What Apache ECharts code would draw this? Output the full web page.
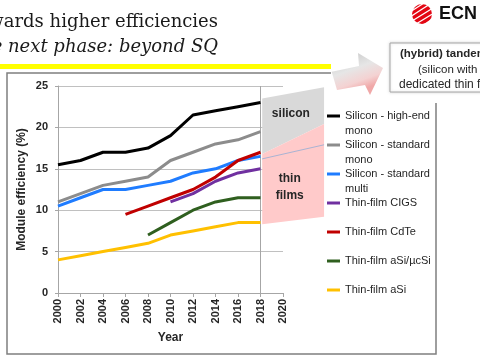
<!DOCTYPE html>
<html><head><meta charset="utf-8">
<script src="https://cdn.jsdelivr.net/npm/echarts@6.0.0/dist/echarts.min.js"></script>
<style>html,body{margin:0;padding:0;background:#fff;}#c{width:480px;height:360px;}</style>
</head><body><div id="c"></div>
<script>
// ---- data ----
const years = [2000, 2002, 2004, 2006, 2008, 2010, 2012, 2014, 2016, 2018];
const siliconHighEndMono = [15.5, 16, 17, 17, 17.5, 19, 21.5, 22, 22.5, 23];
const siliconStandardMono = [11, 12, 13, 13.5, 14, 16, 17, 18, 18.5, 19.5];
const siliconStandardMulti = [10.5, 11.5, 12.5, 12.5, 13, 13.5, 14.5, 15, 16, 16.5];
const thinFilmCIGS = [null, null, null, null, null, 11, 12, 13.5, 14.5, 15];
const thinFilmCdTe = [null, null, null, 9.5, 10.5, 11.5, 12.5, 14, 16, 17];
const thinFilmASiMicro = [null, null, null, null, 7, 8.5, 10, 11, 11.5, 11.5];
const thinFilmASi = [4, 4.5, 5, 5.5, 6, 7, 7.5, 8, 8.5, 8.5];

const seriesNames = ['Silicon - high-end mono', 'Silicon - standard mono', 'Silicon - standard multi',
  'Thin-film CIGS', 'Thin-film CdTe', 'Thin-film aSi/µcSi', 'Thin-film aSi'];
const legendLabels = ['Silicon - high-end\nmono', 'Silicon - standard\nmono', 'Silicon - standard\nmulti',
  'Thin-film CIGS', 'Thin-film CdTe', 'Thin-film aSi/µcSi', 'Thin-film aSi'];
const seriesValues = [siliconHighEndMono, siliconStandardMono, siliconStandardMulti,
  thinFilmCIGS, thinFilmCdTe, thinFilmASiMicro, thinFilmASi];

const xMin = 2000, xMax = 2020, xStep = 2;
const yMin = 0, yMax = 25, yStep = 5;
const todayYear = 2018;

// projection bands (year, efficiency)
const siliconBand = [[2018.15, 23.5], [2023.65, 24.85], [2023.65, 20.4], [2018.15, 16.8]];
const thinFilmBand = [[2018.15, 16.8], [2023.65, 20.4], [2023.65, 9.2], [2018.15, 8.3]];
const tandemLine = [[2018.15, 16.2], [2023.65, 17.9]];
const siliconLabelAt = [2020.7, 21.6];
const thinLabelAt = [2020.6, 12.75];

// ---- styles ----
const colors = ['#000000', '#8c8c8c', '#1f7cff', '#7030a0', '#c00000', '#2f5f1f', '#ffc000'];
const FONT = 'Liberation Sans, Arial, sans-serif';
const SERIF = 'DejaVu Serif, Georgia, serif';
const TXT = '#262626';

const chart = echarts.init(document.getElementById('c'), null, {renderer: 'canvas'});

const lineSeries = seriesNames.map((name, i) => {
  const s = {
    name: name,
    type: 'line',
    symbol: 'none',
    showSymbol: false,
    connectNulls: false,
    z: 5,
    lineStyle: {color: colors[i], width: 3},
    itemStyle: {color: colors[i]},
    data: years.map((y, k) => [y, seriesValues[i][k]]).filter(p => p[1] != null)
  };
  if (i === 0) {
    s.markLine = {
      silent: true, symbol: 'none', label: {show: false},
      lineStyle: {color: '#a6a6a6', type: 'solid', width: 1},
      emphasis: {disabled: true},
      data: [{xAxis: todayYear}]
    };
  }
  return s;
});

const bandSeries = {
  type: 'custom',
  name: 'bands',
  silent: true,
  clip: false,
  z: 1,
  data: [[2020, 15]],
  renderItem: function (params, api) {
    const pts = arr => arr.map(p => api.coord(p));
    const sl = api.coord(siliconLabelAt);
    const tl = api.coord(thinLabelAt);
    return {
      type: 'group',
      children: [
        {type: 'polygon', shape: {points: pts(siliconBand)}, style: {fill: '#d9d9d9'}},
        {type: 'polygon', shape: {points: pts(thinFilmBand)}, style: {fill: '#ffcaca'}},
        {type: 'polyline', shape: {points: pts(tandemLine)}, style: {stroke: '#a9b3d3', lineWidth: 1, fill: null}},
        {type: 'text', x: sl[0], y: sl[1], style: {text: 'silicon', fill: TXT, font: 'bold 12px ' + FONT, align: 'center', verticalAlign: 'middle'}},
        {type: 'text', x: tl[0], y: tl[1], style: {text: 'thin\nfilms', fill: TXT, font: 'bold 12px ' + FONT, lineHeight: 17, align: 'center', verticalAlign: 'middle'}}
      ]
    };
  }
};

const LH = 14.5;
// every legend entry is laid out as 3 text rows so the swatch sits on the first printed row
const legendText = label => {
  const rows = label.split('\n');
  return '\n' + label + (rows.length === 1 ? '\n' : '');
};

const option = {
  backgroundColor: '#ffffff',
  animation: false,
  grid: {left: 58, top: 86, width: 225, height: 207, containLabel: false, outerBoundsMode: 'none'},
  xAxis: {
    type: 'value', min: xMin, max: xMax, interval: xStep,
    axisLine: {show: true, lineStyle: {color: '#a6a6a6', width: 1}},
    axisTick: {show: true, length: 4, lineStyle: {color: '#a6a6a6'}},
    splitLine: {show: false},
    axisLabel: {rotate: 90, margin: 6, fontSize: 11, fontWeight: 'bold', color: TXT, fontFamily: FONT,
      formatter: v => String(v)},
    name: 'Year', nameLocation: 'middle', nameGap: 38,
    nameTextStyle: {fontSize: 12, fontWeight: 'bold', color: TXT, fontFamily: FONT}
  },
  yAxis: {
    type: 'value', min: yMin, max: yMax, interval: yStep,
    axisLine: {show: true, lineStyle: {color: '#a6a6a6', width: 1}},
    axisTick: {show: true, length: 3, lineStyle: {color: '#a6a6a6'}},
    splitLine: {show: true, lineStyle: {color: '#c0c0c0', width: 1}},
    axisLabel: {margin: 10, fontSize: 11, fontWeight: 'bold', color: TXT, fontFamily: FONT},
    name: 'Module efficiency (%)', nameLocation: 'middle', nameGap: 30,
    nameTextStyle: {fontSize: 12, fontWeight: 'bold', color: TXT, fontFamily: FONT}
  },
  legend: {
    orient: 'vertical', left: 327, top: 116 - 1.5 * LH, padding: 0,
    itemWidth: 13, itemHeight: 3, itemGap: -LH, icon: 'rect',
    selectedMode: false,
    itemStyle: {borderWidth: 0},
    textStyle: {fontSize: 11, color: TXT, fontFamily: FONT, lineHeight: LH},
    formatter: n => legendText(legendLabels[seriesNames.indexOf(n)]),
    data: seriesNames
  },
  graphic: [
    // title (left part clipped by the slide edge, as in the source)
    {type: 'text', x: 218, y: 22, style: {text: 'Towards higher efficiencies', font: '18px ' + SERIF, fill: '#1a1a1a', align: 'right', verticalAlign: 'middle'}},
    {type: 'text', x: 218, y: 47, style: {text: 'The next phase: beyond SQ', font: 'italic 18px ' + SERIF, fill: '#1a1a1a', align: 'right', verticalAlign: 'middle'}},
    {type: 'rect', shape: {x: 0, y: 64, width: 331, height: 5}, style: {fill: '#ffff00'}},
    // chart frame
    {type: 'polyline', shape: {points: [[331, 73], [7, 73], [7, 354], [436, 354], [436, 103]]}, style: {stroke: '#7f7f7f', lineWidth: 1.5, fill: null}},
    // arrow
    {type: 'polygon', shape: {points: [[331.7, 71.7], [359, 66], [358, 53], [383, 68], [370, 95], [365, 85], [337, 90]]},
      style: {fill: {type: 'linear', x: 0, y: 0, x2: 0.3, y2: 1, colorStops: [
        {offset: 0, color: '#c2c2c2'}, {offset: 0.5, color: '#e6e6e6'}, {offset: 0.8, color: '#f4d2d2'}, {offset: 1, color: '#f0a8a8'}]}}},
    // tandem box
    {type: 'rect', shape: {x: 390, y: 43, width: 140, height: 49}, style: {fill: '#ffffff', stroke: '#a6a6a6', lineWidth: 1, shadowColor: 'rgba(0,0,0,0.15)', shadowBlur: 3}},
    {type: 'text', x: 400, y: 54, style: {text: '(hybrid) tandem cells', font: 'bold 11.5px ' + FONT, fill: TXT, verticalAlign: 'middle'}},
    {type: 'text', x: 418, y: 69.5, style: {text: '(silicon with', font: '11.5px ' + FONT, fill: TXT, verticalAlign: 'middle'}},
    {type: 'text', x: 399, y: 85, style: {text: 'dedicated thin film)', font: '12px ' + FONT, fill: TXT, verticalAlign: 'middle'}},
    // ECN logo
    {type: 'circle', shape: {cx: 422, cy: 14, r: 10}, style: {fill: '#e30613'}},
    {type: 'line', shape: {x1: 410, y1: 12, x2: 424, y2: 3}, style: {stroke: '#ffffff', lineWidth: 1.4}},
    {type: 'line', shape: {x1: 410, y1: 17, x2: 430, y2: 4}, style: {stroke: '#ffffff', lineWidth: 1.4}},
    {type: 'line', shape: {x1: 412, y1: 21, x2: 433, y2: 8}, style: {stroke: '#ffffff', lineWidth: 1.4}},
    {type: 'line', shape: {x1: 416, y1: 24, x2: 434, y2: 13}, style: {stroke: '#ffffff', lineWidth: 1.4}},
    {type: 'line', shape: {x1: 422, y1: 26, x2: 434, y2: 18}, style: {stroke: '#ffffff', lineWidth: 1.4}},
    {type: 'text', x: 439, y: 14, style: {text: 'ECN', font: 'bold 18px ' + FONT, fill: '#111111', verticalAlign: 'middle'}}
  ],
  series: [bandSeries].concat(lineSeries)
};
chart.setOption(option);
</script>
</body></html>
